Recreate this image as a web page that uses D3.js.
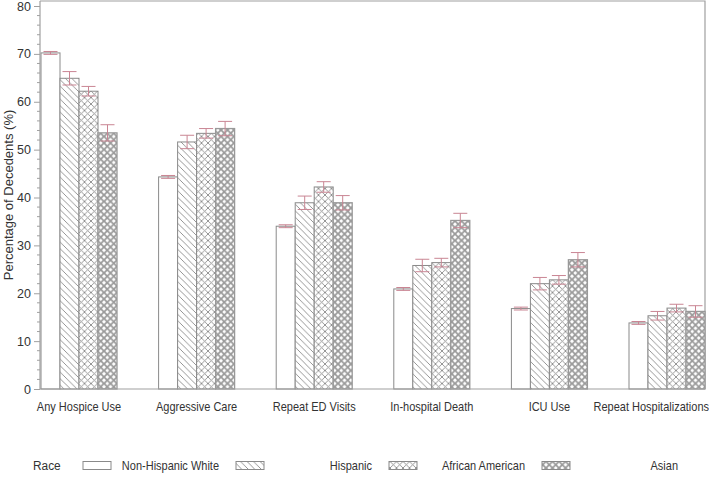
<!DOCTYPE html>
<html><head><meta charset="utf-8">
<script src="https://cdn.jsdelivr.net/npm/d3@7"></script>
<style>body{margin:0;background:#fff}svg{display:block;font-family:Arial,"Liberation Sans",sans-serif}</style>
</head><body><svg id="c" width="709" height="485"></svg>
<script>
const categories = ["Any Hospice Use","Aggressive Care","Repeat ED Visits","In-hospital Death","ICU Use","Repeat Hospitalizations"];
const races = ["Non-Hispanic White","Hispanic","African American","Asian"];
const white    = [70.2, 44.3, 34.0, 20.9, 16.8, 13.8];
const hispanic = [64.9, 51.6, 38.9, 25.8, 22.0, 15.3];
const african  = [62.2, 53.4, 42.2, 26.4, 22.8, 16.9];
const asian    = [53.5, 54.4, 38.9, 35.2, 27.0, 16.2];
const whiteErr    = [0.3, 0.3, 0.3, 0.3, 0.3, 0.3];
const hispanicErr = [1.4, 1.4, 1.4, 1.3, 1.3, 0.9];
const africanErr  = [1.0, 1.0, 1.1, 0.9, 0.9, 0.8];
const asianErr    = [1.7, 1.5, 1.5, 1.5, 1.5, 1.2];
const yTicks = [0,10,20,30,40,50,60,70,80];

const series = [white, hispanic, african, asian];
const errs = [whiteErr, hispanicErr, africanErr, asianErr];
const fills = ["#fff","url(#pH)","url(#pA)","url(#pS)"];

const svg = d3.select("#c");
const defs = svg.append("defs");
function pat(id, size, sw, col, both){
  const p = defs.append("pattern").attr("id",id).attr("patternUnits","userSpaceOnUse")
    .attr("width",size).attr("height",size);
  p.append("rect").attr("width",size).attr("height",size).attr("fill","#fff");
  const g = p.append("g").attr("stroke",col).attr("stroke-width",sw).attr("fill","none");
  g.append("path").attr("d",`M0,0L${size},${size}M${-size/2},${size/2}L${size/2},${size*1.5}M${size/2},${-size/2}L${size*1.5},${size/2}`);
  if(both){
    g.append("path").attr("d",`M${size},0L0,${size}M${size*1.5},${size/2}L${size/2},${size*1.5}M${size/2},${-size/2}L${-size/2},${size/2}`);
  }
}
pat("pH", 6.5, 0.9, "#8a8a8a", false);
pat("pA", 6.5, 0.9, "#8a8a8a", true);
pat("pS", 6.5, 1.8, "#9a9a9a", true);

const pL = 40, pR = 705, pT = 1, pB = 389;
const y = d3.scaleLinear().domain([0,80]).range([pB, 6]);
const bw = 19;
const x0 = d3.scalePoint().domain(categories).range([pL+1+2*bw, pR-2*bw]);
const xs = d3.scaleBand().domain(races).range([-2*bw, 2*bw]);

// frame
svg.append("path").attr("d",`M${pL},${pT}H${pR}V${pB}`).attr("fill","none").attr("stroke","#a0a0a0").attr("stroke-width",1.2);

// bars
categories.forEach((c,i)=>{
  races.forEach((r,j)=>{
    const v = series[j][i];
    svg.append("rect").attr("x", x0(c)+xs(r)).attr("y", y(v))
      .attr("width", xs.bandwidth()).attr("height", y(0)-y(v))
      .attr("fill", fills[j]).attr("stroke", j===3?"#999":"#8a8a8a").attr("stroke-width", j===3?1.3:1);
  });
});
// error bars
categories.forEach((c,i)=>{
  races.forEach((r,j)=>{
    const v = series[j][i], e = errs[j][i];
    const cx = x0(c)+xs(r)+xs.bandwidth()/2;
    const g = svg.append("g").attr("stroke","#c98593").attr("stroke-width",1).attr("fill","none");
    g.append("line").attr("x1",cx).attr("x2",cx).attr("y1",y(v+e)).attr("y2",y(v-e));
    g.append("line").attr("x1",cx-7).attr("x2",cx+7).attr("y1",y(v+e)).attr("y2",y(v+e));
    g.append("line").attr("x1",cx-7).attr("x2",cx+7).attr("y1",y(v-e)).attr("y2",y(v-e));
  });
});

// y axis
const yAxis = d3.axisLeft(y).tickValues(yTicks).tickSize(6).tickPadding(3).tickFormat(d3.format("d"));
const ga = svg.append("g").attr("transform",`translate(${pL},0)`).call(yAxis);
ga.select(".domain").attr("stroke","#a0a0a0").attr("stroke-width",1.2).attr("d",`M0,${pB}V${pT}`);
ga.selectAll(".tick line").attr("stroke","#a0a0a0");
ga.selectAll(".tick text").attr("font-size",12.5).attr("fill","#333").attr("font-family","Arial, Liberation Sans, sans-serif");
const minor = d3.range(0,80,2).filter(v=>v%10!==0);
svg.append("g").selectAll("line").data(minor).join("line")
  .attr("x1",pL-3).attr("x2",pL).attr("y1",d=>y(d)).attr("y2",d=>y(d)).attr("stroke","#a0a0a0");
svg.append("line").attr("x1",pL).attr("x2",pR).attr("y1",pB).attr("y2",pB).attr("stroke","#a0a0a0").attr("stroke-width",1.2);

// narrow text helper
function ntext(sel, x, yv, str, anchor, fs){
  return sel.append("text").attr("transform",`translate(${x},${yv}) scale(0.88,1)`)
    .attr("text-anchor",anchor).attr("font-size",fs||12.5).attr("fill","#333").text(str);
}
// category labels
const gc = svg.append("g");
categories.forEach((c,i)=>{
  const last = i===categories.length-1;
  ntext(gc, last ? 709 : x0(c), 411, c, last?"end":"middle");
});

// y label
svg.append("text").attr("transform",`translate(13,${(pT+pB)/2}) rotate(-90)`)
  .attr("text-anchor","middle").attr("font-size",13).attr("fill","#333").text("Percentage of Decedents (%)");

// legend
const ly = 465;
ntext(svg, 33, ly+5, "Race", "start", 13.5);
races.forEach((r,j)=>{
  const sx = 83 + j*153;
  svg.append("rect").attr("x",sx).attr("y",ly-3.5).attr("width",28).attr("height",8)
    .attr("fill",fills[j]).attr("stroke","#8a8a8a").attr("stroke-width",1);
  ntext(svg, sx+136, ly+5, r, "end");
});
</script></body></html>
